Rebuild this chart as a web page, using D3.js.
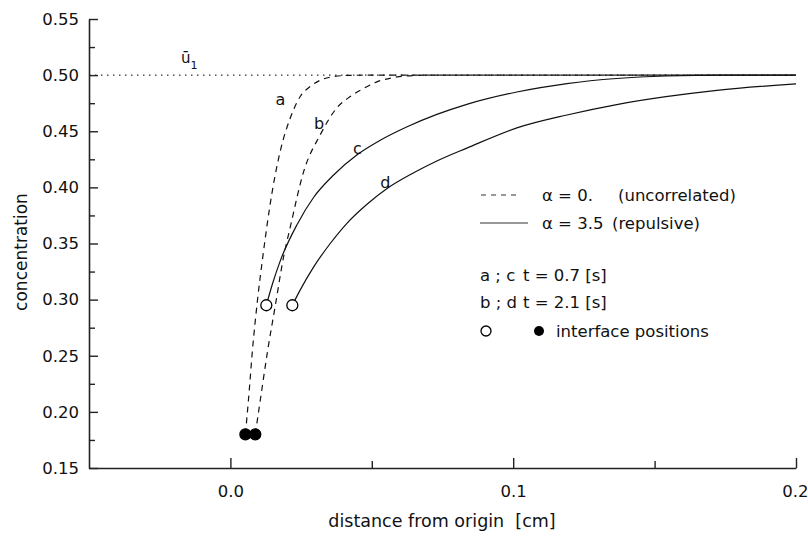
<!DOCTYPE html>
<html>
<head>
<meta charset="utf-8">
<script src="https://cdn.jsdelivr.net/npm/d3@7"></script>
<style>
  body { margin: 0; background: #fff; }
  text { font-family: "DejaVu Sans", sans-serif; fill: #111; }
</style>
</head>
<body>
<div id="chart"></div>
<script>
// curve data: x in cm, concentration
var aX = [0.0053, 0.0064, 0.0078, 0.0096, 0.0114, 0.0147, 0.0177, 0.0212, 0.0247, 0.0283, 0.0318, 0.036, 0.042, 0.05, 0.1, 0.2];
var aY = [0.180, 0.211, 0.255, 0.300, 0.337, 0.395, 0.433, 0.462, 0.481, 0.490, 0.4955, 0.4985, 0.4998, 0.5, 0.5, 0.5];
var bX = [0.0088, 0.0106, 0.0132, 0.0159, 0.0188, 0.0212, 0.0259, 0.0318, 0.0377, 0.0424, 0.047, 0.0518, 0.0576, 0.0624, 0.07, 0.1, 0.2];
var bY = [0.180, 0.211, 0.255, 0.295, 0.338, 0.365, 0.414, 0.447, 0.471, 0.481, 0.488, 0.494, 0.4978, 0.4993, 0.5, 0.5, 0.5];
var cX = [0.0127, 0.0150, 0.0177, 0.0236, 0.0294, 0.0365, 0.0448, 0.053, 0.0625, 0.073, 0.0836, 0.1013, 0.119, 0.1366, 0.154, 0.175, 0.2];
var cY = [0.295, 0.315, 0.335, 0.367, 0.391, 0.411, 0.429, 0.442, 0.454, 0.465, 0.474, 0.485, 0.4925, 0.497, 0.4992, 0.5, 0.5];
var dX = [0.0219, 0.0247, 0.0294, 0.0353, 0.0412, 0.0483, 0.0554, 0.0648, 0.073, 0.0836, 0.1013, 0.119, 0.1366, 0.154, 0.172, 0.2];
var dY = [0.295, 0.3087, 0.329, 0.350, 0.368, 0.385, 0.399, 0.413, 0.4235, 0.435, 0.453, 0.4645, 0.4738, 0.4808, 0.4865, 0.4922];

var u1 = 0.5;
var curveNames = ["a", "b", "c", "d"];
var labelX = [0.0177, 0.0314, 0.0449, 0.0548];
var labelY = [0.473, 0.452, 0.430, 0.399];
var xTicks = [0.0, 0.1, 0.2];
var xMinor = [0.05, 0.15];
var yTicks = [0.15, 0.20, 0.25, 0.30, 0.35, 0.40, 0.45, 0.50, 0.55];
var yMinor = [0.175, 0.225, 0.275, 0.325, 0.375, 0.425, 0.475, 0.525];

var W = 808, H = 537;
var margin = {top: 19, right: 12, bottom: 69, left: 89};

var svg = d3.select("#chart").append("svg")
  .attr("width", W)
  .attr("height", H);

var x = d3.scaleLinear().domain([-0.05, 0.2]).range([margin.left, W - margin.right]);
var y = d3.scaleLinear().domain([0.15, 0.55]).range([H - margin.bottom, margin.top]);

var series = [
  {name: "a", xs: aX, ys: aY, dashed: true},
  {name: "b", xs: bX, ys: bY, dashed: true},
  {name: "c", xs: cX, ys: cY, dashed: false},
  {name: "d", xs: dX, ys: dY, dashed: false}
];

// dotted reference line u1
svg.append("line")
  .attr("x1", x(-0.05)).attr("x2", x(0.2))
  .attr("y1", y(u1)).attr("y2", y(u1))
  .attr("stroke", "#333").attr("stroke-width", 1.2)
  .attr("stroke-dasharray", "1.5,4.5");

var line = d3.line()
  .x(function(d) { return x(d[0]); })
  .y(function(d) { return y(d[1]); })
  .curve(d3.curveMonotoneX);

series.forEach(function(s) {
  var pts = s.xs.map(function(v, i) { return [v, s.ys[i]]; });
  svg.append("path")
    .attr("d", line(pts))
    .attr("fill", "none")
    .attr("stroke", "#111")
    .attr("stroke-width", 1.2)
    .attr("stroke-dasharray", s.dashed ? "6,5" : null);
});

// interface positions: start points of each curve
series.forEach(function(s) {
  svg.append("circle")
    .attr("cx", x(s.xs[0]))
    .attr("cy", y(s.ys[0]))
    .attr("r", 5.5)
    .attr("fill", s.dashed ? "#000" : "#fff")
    .attr("stroke", "#000")
    .attr("stroke-width", 1.3);
});

// curve letters
curveNames.forEach(function(n, i) {
  svg.append("text")
    .attr("x", x(labelX[i]))
    .attr("y", y(labelY[i]))
    .attr("text-anchor", "middle")
    .style("font-size", "16px")
    .text(n);
});

// u1 label
var ul = svg.append("text")
  .attr("x", 181)
  .attr("y", 63)
  .style("font-size", "15px");
ul.append("tspan").text("\u016B");
ul.append("tspan").attr("dy", 6).style("font-size", "11px").text("1");

// axes
svg.append("g")
  .attr("transform", "translate(" + margin.left + ",0)")
  .call(d3.axisLeft(y).tickValues(yTicks).tickSize(-9).tickSizeOuter(0)
    .tickPadding(10).tickFormat(d3.format(".2f")));
svg.append("g")
  .attr("transform", "translate(" + margin.left + ",0)")
  .call(d3.axisLeft(y).tickValues(yMinor).tickSize(-6).tickSizeOuter(0).tickFormat(""))
  .select(".domain").remove();

var xAxis = svg.append("g")
  .attr("transform", "translate(0," + (H - margin.bottom) + ")")
  .call(d3.axisBottom(x).tickValues(xTicks).tickSize(-10).tickSizeOuter(0)
    .tickPadding(17).tickFormat(d3.format(".1f")));
svg.append("g")
  .attr("transform", "translate(0," + (H - margin.bottom) + ")")
  .call(d3.axisBottom(x).tickValues(xMinor).tickSize(-7).tickSizeOuter(0).tickFormat(""))
  .select(".domain").remove();

svg.selectAll(".domain").attr("stroke", "#222").attr("stroke-width", 1.6);
svg.selectAll(".tick line").attr("stroke", "#222").attr("stroke-width", 1.4);
svg.selectAll(".tick text")
  .style("font-family", "'DejaVu Sans', sans-serif")
  .style("font-size", "16.5px")
  .attr("fill", "#111");
// last label sits right at the edge, keep it inside
xAxis.selectAll(".tick text").filter(function(d) { return d === 0.2; })
  .attr("text-anchor", "end").attr("dx", 12);

// axis titles
svg.append("text")
  .attr("x", 442)
  .attr("y", 527)
  .attr("text-anchor", "middle")
  .attr("xml:space", "preserve")
  .style("font-size", "17.5px")
  .text("distance from origin  [cm]");

svg.append("text")
  .attr("transform", "rotate(-90)")
  .attr("x", -252)
  .attr("y", 27)
  .attr("text-anchor", "middle")
  .style("font-size", "17px")
  .text("concentration");

// legend
var lg = svg.append("g").style("font-size", "16.5px");
lg.append("line").attr("x1", 481).attr("x2", 521).attr("y1", 195).attr("y2", 195)
  .attr("stroke", "#333").attr("stroke-width", 1).attr("stroke-dasharray", "5,5");
lg.append("line").attr("x1", 480).attr("x2", 528).attr("y1", 223).attr("y2", 223)
  .attr("stroke", "#333").attr("stroke-width", 1);
lg.append("text").attr("x", 542).attr("y", 201).text("\u03B1 = 0.");
lg.append("text").attr("x", 618).attr("y", 201).text("(uncorrelated)");
lg.append("text").attr("x", 542).attr("y", 229).text("\u03B1 = 3.5");
lg.append("text").attr("x", 612).attr("y", 229).text("(repulsive)");
lg.append("text").attr("x", 480).attr("y", 281).text("a ; c");
lg.append("text").attr("x", 523).attr("y", 281).text("t = 0.7 [s]");
lg.append("text").attr("x", 480).attr("y", 308).text("b ; d");
lg.append("text").attr("x", 523).attr("y", 308).text("t = 2.1 [s]");
lg.append("circle").attr("cx", 486).attr("cy", 331).attr("r", 5).attr("fill", "#fff")
  .attr("stroke", "#000").attr("stroke-width", 1.3);
lg.append("circle").attr("cx", 539).attr("cy", 331).attr("r", 5).attr("fill", "#000");
lg.append("text").attr("x", 556).attr("y", 337).text("interface positions");
</script>
</body>
</html>
